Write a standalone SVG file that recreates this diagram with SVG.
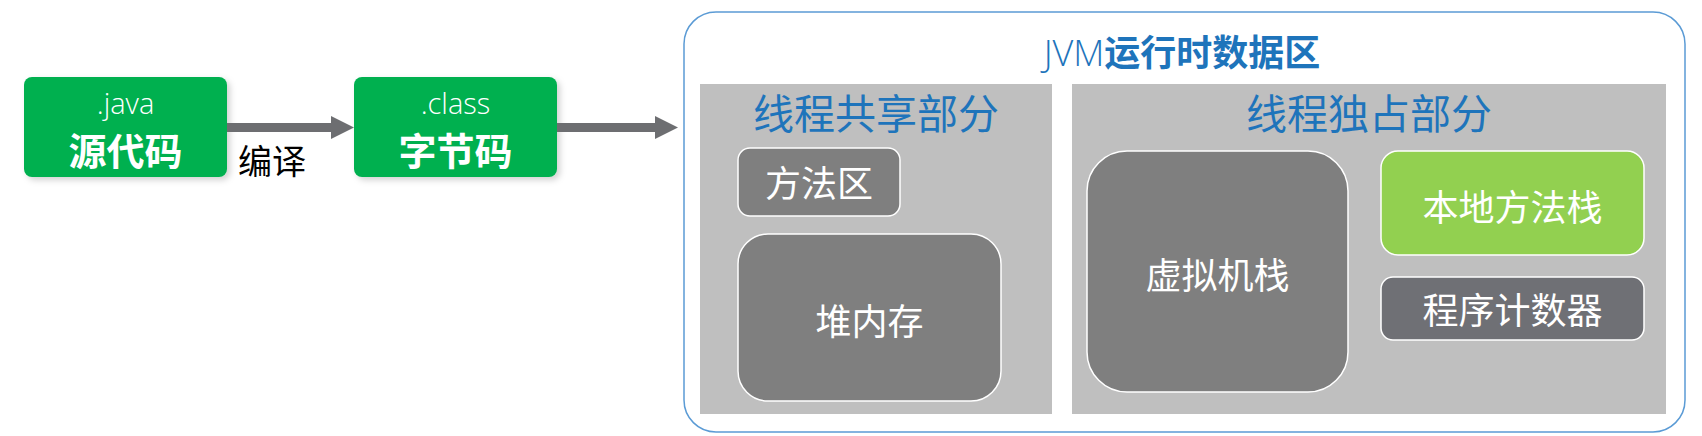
<svg xmlns="http://www.w3.org/2000/svg" width="1702" height="436" viewBox="0 0 1702 436">
<defs>
<style>
.cjk{font-family:"Noto Sans CJK SC","Noto Sans",sans-serif;}
.lat{font-family:"Open Sans","Noto Sans","Noto Sans CJK SC",sans-serif;font-weight:300;}
.src{fill:#00B050;}
.gbox{fill:#7F7F7F;stroke:#FFFFFF;stroke-width:1.5;}
.panel{fill:#BFBFBF;}
.wt{fill:#FFFFFF;font-size:36px;text-anchor:middle;}
.ttl{fill:#1E74BB;font-size:41px;text-anchor:middle;}
.conn{stroke:#6D6E71;stroke-width:9;fill:none;marker-end:url(#ah);}
</style>
<marker id="ah" markerUnits="userSpaceOnUse" markerWidth="23" markerHeight="23" refX="13" refY="11.5" orient="auto">
<path d="M0,0 L23,11.5 L0,23 Z" fill="#6D6E71"/>
</marker>
<filter id="sh" x="-10%" y="-10%" width="125%" height="130%">
<feDropShadow dx="3" dy="3" stdDeviation="3" flood-color="#000" flood-opacity="0.18"/>
</filter>
</defs>

<g id="jvm">
<rect x="684" y="12" width="1001" height="420" rx="32" fill="#FFFFFF" stroke="#5B9BD5" stroke-width="1.5"/>
<text x="1182" y="66" text-anchor="middle" fill="#1E74BB" font-size="36"><tspan class="lat">JVM</tspan><tspan class="cjk" font-weight="bold">运行时数据区</tspan></text>
</g>

<g id="shared">
<rect class="panel" x="700" y="84" width="352" height="330"/>
<text class="cjk ttl" x="876" y="129">线程共享部分</text>
</g>

<g id="private">
<rect class="panel" x="1072" y="84" width="594" height="330"/>
<text class="cjk ttl" x="1369" y="129">线程独占部分</text>
</g>

<g id="method-area">
<rect class="gbox" x="738" y="148" width="162" height="68" rx="12"/>
<text class="cjk wt" x="819" y="197">方法区</text>
</g>

<g id="heap">
<rect class="gbox" x="738" y="234" width="263" height="167" rx="30"/>
<text class="cjk wt" x="869.5" y="335">堆内存</text>
</g>

<g id="vm-stack">
<rect class="gbox" x="1087" y="151" width="261" height="241" rx="40"/>
<text class="cjk wt" x="1217.5" y="289">虚拟机栈</text>
</g>

<g id="native-stack">
<rect x="1381" y="151" width="263" height="104" rx="17" fill="#92D050" stroke="#FFFFFF" stroke-width="1.5"/>
<text class="cjk wt" x="1512.5" y="221">本地方法栈</text>
</g>

<g id="pc">
<rect x="1381" y="277" width="263" height="63" rx="12" fill="#6F7075" stroke="#FFFFFF" stroke-width="1.5"/>
<text class="cjk wt" x="1512.5" y="324">程序计数器</text>
</g>

<g id="java-src">
<rect class="src" x="24" y="77" width="203" height="100" rx="8" filter="url(#sh)"/>
<text class="lat" x="125.5" y="114" fill="#FFFFFF" font-size="29" text-anchor="middle">.java</text>
<text class="cjk" x="125.5" y="165" fill="#FFFFFF" font-size="38" font-weight="bold" text-anchor="middle">源代码</text>
</g>

<g id="bytecode">
<rect class="src" x="354" y="77" width="203" height="100" rx="8" filter="url(#sh)"/>
<text class="lat" x="455.5" y="114" fill="#FFFFFF" font-size="29" text-anchor="middle">.class</text>
<text class="cjk" x="455.5" y="165" fill="#FFFFFF" font-size="38" font-weight="bold" text-anchor="middle">字节码</text>
</g>

<g id="connectors">
<line class="conn" x1="227" y1="127.5" x2="344" y2="127.5"/>
<line class="conn" x1="557" y1="127.5" x2="668" y2="127.5"/>
<text class="cjk" x="272" y="174" fill="#000000" font-size="34" text-anchor="middle">编译</text>
</g>
</svg>
